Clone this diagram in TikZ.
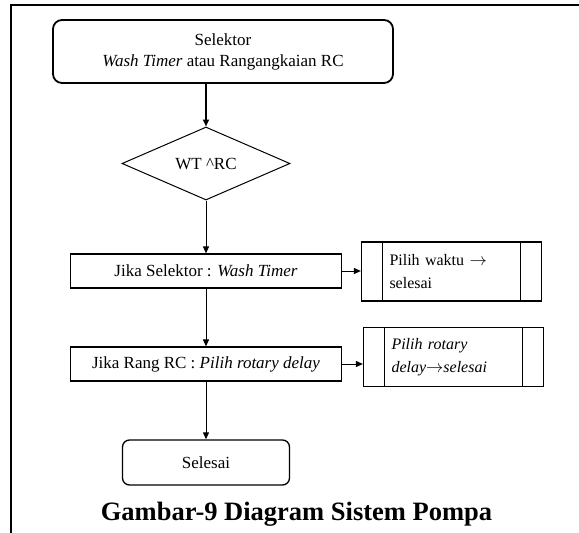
\documentclass[tikz,border=0pt]{standalone}
\usepackage{fontspec}
\setmainfont{Liberation Serif}
\usetikzlibrary{arrows.meta,shapes.geometric}

\begin{document}
\begin{tikzpicture}[x=1pt,y=-1pt,
        boxfont/.style={font=\fontsize{17}{21}\selectfont},
        terminal/.style={draw,rounded corners=9pt,boxfont,align=center},
        decision/.style={draw,diamond,aspect=2.3,line width=1pt,boxfont,
                         minimum width=168pt,minimum height=73pt,inner sep=0pt},
        process/.style={draw,line width=1.2pt,boxfont,minimum width=271pt,minimum height=34pt},
        subproc/.style={draw,line width=1.2pt,minimum width=180pt,minimum height=59pt,
                        text width=124pt,align=left,font=\fontsize{16}{23}\selectfont,
                        path picture={\draw[line width=1.2pt]
                            ([xshift=21pt]path picture bounding box.north west) --
                            ([xshift=21pt]path picture bounding box.south west)
                            ([xshift=-21pt]path picture bounding box.north east) --
                            ([xshift=-21pt]path picture bounding box.south east);}}]
            \useasboundingbox (0,0) rectangle (579,533);
            % frame
            \draw[line width=2pt] (579,5) -- (11,5) -- (11,533);

            \begin{scope}
                \node[terminal,line width=1.8pt,minimum width=340pt,minimum height=63pt] (start) at (223,51.5)
                    {Selektor\\\textit{Wash Timer} atau Rangangkaian RC};
                \node[decision] (dec) at (206,163.5) {WT \textasciicircum{}RC};
                \node[process] (jws) at (206,271) {Jika Selektor : \textit{Wash Timer}};
                \node[process] (jrc) at (206,364) {Jika Rang RC : \textit{Pilih rotary delay}};
                \node[subproc] (pws) at (451.5,271.5) {Pilih waktu $\rightarrow$\\selesai};
                \node[subproc] (prc) at (453.5,357) {\textit{Pilih rotary}\\\textit{delay}$\rightarrow$\textit{selesai}};
                \node[terminal,rounded corners=7pt,line width=1.3pt,minimum width=167pt,minimum height=45pt] (end) at (206,462.5) {Selesai};
                \node[anchor=base,font=\fontsize{26.5}{30}\selectfont\bfseries] (caption) at (296.5,520)
                    {Gambar-9 Diagram Sistem Pompa};
            \end{scope}

            \begin{scope}[>={Triangle[length=7pt,width=6pt]},
                          every edge/.style={draw=black,line width=1pt}]
                \path [->] (dec.north |- start.south) edge[line width=2.4pt] (dec.north);
                \path [->] (dec.south) edge (jws.north);
                \path [->] (jws.south) edge (jrc.north);
                \path [->] (jrc.south) edge (end.north);
                \path [->] (jws.east) edge (jws.east -| pws.west);
                \path [->] (jrc.east) edge (jrc.east -| prc.west);
            \end{scope}
\end{tikzpicture}
\end{document}
